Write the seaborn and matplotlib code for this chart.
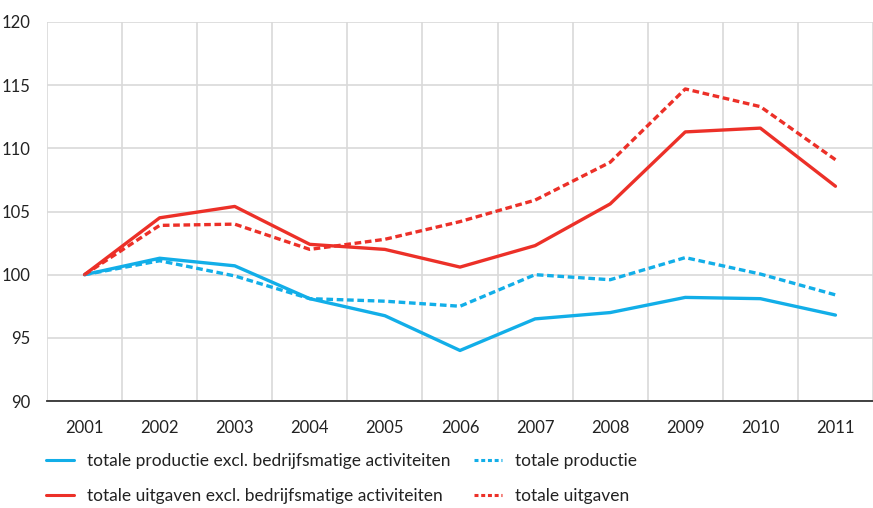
import numpy as np
import pandas as pd
import matplotlib

matplotlib.use("Agg")
import matplotlib.pyplot as plt
import seaborn as sns
from matplotlib.lines import Line2D

# =========================
# Data (index 2001 = 100)
# =========================
years = list(range(2001, 2012))
productie_excl = [100.0, 101.3, 100.7, 98.1, 96.75, 94.0, 96.5, 97.0, 98.2, 98.1, 96.8]
productie = [100.0, 101.1, 99.9, 98.1, 97.9, 97.5, 100.0, 99.6, 101.35, 100.05, 98.4]
uitgaven_excl = [100.0, 104.5, 105.4, 102.4, 102.0, 100.6, 102.3, 105.6, 111.3, 111.6, 107.0]
uitgaven = [100.0, 103.9, 104.0, 102.0, 102.8, 104.2, 105.9, 108.9, 114.7, 113.3, 109.1]

labels = [
    "totale productie excl. bedrijfsmatige activiteiten",
    "totale uitgaven excl. bedrijfsmatige activiteiten",
    "totale productie",
    "totale uitgaven",
]
series_values = [productie_excl, uitgaven_excl, productie, uitgaven]

BLUE = "#12aee8"
RED = "#ec3028"
palette = {labels[0]: BLUE, labels[1]: RED, labels[2]: BLUE, labels[3]: RED}
dashes = {labels[0]: "", labels[1]: "", labels[2]: (2.0, 1.1), labels[3]: (2.0, 1.1)}

df = pd.concat(
    [pd.DataFrame({"jaar": years, "index": vals, "reeks": lab})
     for lab, vals in zip(labels, series_values)],
    ignore_index=True,
)

# =========================
# Plot
# =========================
sns.set_style("white")
plt.rcParams["font.family"] = ["Lato", "DejaVu Sans"]

fig = plt.figure(figsize=(8.73, 5.08), dpi=100)
ax = fig.add_axes([47 / 873, 1 - 401 / 508, 1 - 47 / 873, 379 / 508])

sns.lineplot(
    data=df, x="jaar", y="index", hue="reeks", style="reeks",
    palette=palette, dashes=dashes, linewidth=2.4, ax=ax, legend=False,
)

ax.set_ylim(90, 120)
ax.set_xlim(2000.5, 2011.45)
ax.set_yticks(np.arange(90, 121, 5))
ax.set_xticks(years)
ax.set_xticks(np.arange(2000.5, 2011.6, 1), minor=True)

# --- grid: horizontal on y ticks, vertical between the years ---
ax.grid(False)
ax.yaxis.grid(True, color="#d9d9d9", linewidth=1.2)
ax.xaxis.grid(True, which="minor", color="#d9d9d9", linewidth=1.2)
ax.set_axisbelow(True)

for side in ["top", "right", "left"]:
    ax.spines[side].set_visible(False)
ax.spines["bottom"].set_color("#333333")
ax.spines["bottom"].set_linewidth(1.3)

ax.tick_params(axis="y", length=0, pad=12, labelsize=12, labelcolor="#222222")
ax.tick_params(axis="x", which="major", length=7, width=1.2, color="#333333",
               direction="out", pad=7, labelsize=12, labelcolor="#222222")
ax.tick_params(axis="x", which="minor", length=0)
ax.set_xlabel("")
ax.set_ylabel("")

# --- legend (2 columns, 2 rows) ---
handles = [
    Line2D([], [], color=palette[lab], linewidth=2.2,
           linestyle="-" if dashes[lab] == "" else (0, (1.3, 0.9)))
    for lab in labels
]
fig.legend(
    handles, labels, ncol=2, loc="upper left", bbox_to_anchor=(0.037, 0.136),
    frameon=False, fontsize=12.5, handlelength=1.6, handletextpad=0.75,
    columnspacing=1.35, labelspacing=1.1, labelcolor="#222222",
    borderpad=0.3,
)

plt.savefig("out.png", dpi=100)
